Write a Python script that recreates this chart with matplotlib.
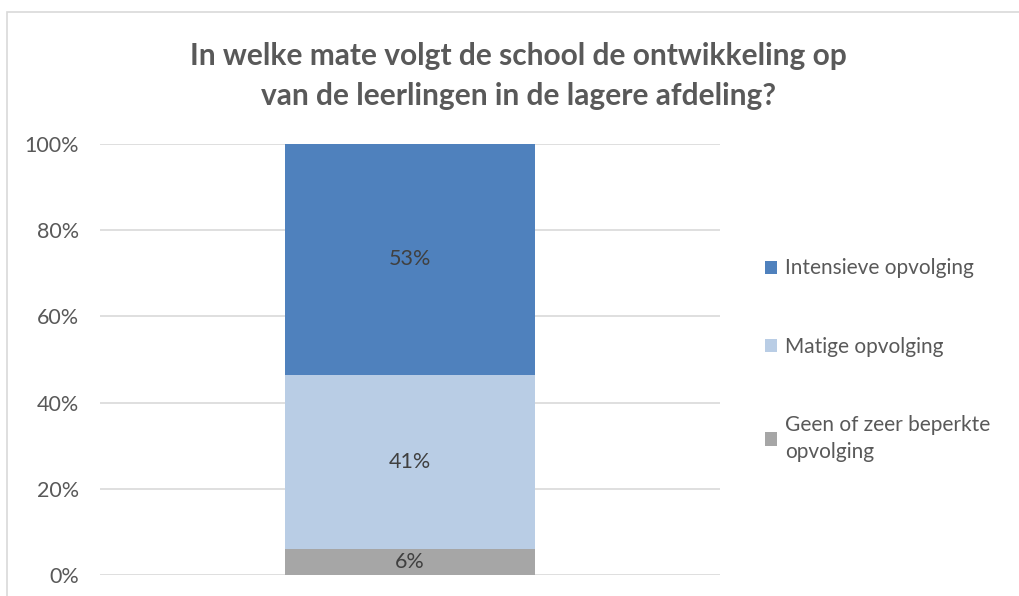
import matplotlib.pyplot as plt
from matplotlib.patches import Rectangle

plt.rcParams['font.family'] = ['Lato', 'DejaVu Sans']

# data (bottom to top)
series = ["Geen of zeer beperkte\nopvolging", "Matige opvolging", "Intensieve opvolging"]
values = [6.0, 40.5, 53.5]
value_labels = ["6%", "41%", "53%"]
colors = ["#A6A6A6", "#B9CDE5", "#4F81BD"]
yticks = [0, 20, 40, 60, 80, 100]
ytick_labels = ["0%", "20%", "40%", "60%", "80%", "100%"]
title = "In welke mate volgt de school de ontwikkeling op\nvan de leerlingen in de lagere afdeling?"

fig = plt.figure(figsize=(10.2, 5.96), dpi=100)
ax = fig.add_axes([100 / 1020, 1 - 575 / 596, 620 / 1020, 431 / 596])

# outer chart frame (runs off the right and bottom edges)
fig.patches.append(Rectangle((7 / 1020, -0.1), 1.2, 1 - 12 / 596 + 0.1,
                             transform=fig.transFigure, fill=False,
                             edgecolor="#D9D9D9", linewidth=1.2))

bottom = 0
handles = []
for name, v, lab, c in zip(series, values, value_labels, colors):
    b = ax.bar(0, v, width=0.403, bottom=bottom, color=c, label=name, zorder=3)
    handles.append(b)
    ax.text(0, bottom + v / 2, lab, ha="center", va="center",
            fontsize=15.5, color="#404040", zorder=4)
    bottom += v

ax.set_xlim(-0.5, 0.5)
ax.set_ylim(0, 100)
ax.set_yticks(yticks)
ax.set_yticklabels(ytick_labels, fontsize=15.5, color="#595959")
ax.set_xticks([])
ax.tick_params(axis="y", length=0, pad=15)
ax.grid(axis="y", color="#D9D9D9", linewidth=1.2, zorder=0)
for s in ax.spines.values():
    s.set_visible(False)

fig.text(0.508, 1 - 76 / 596, title, ha="center", va="center",
         fontsize=21.5, fontweight="bold", color="#595959", linespacing=1.5)

leg = ax.legend(handles[::-1], series[::-1], loc="center left",
                bbox_to_anchor=(765 / 1020, 1 - 360 / 596),
                bbox_transform=fig.transFigure, frameon=False, borderpad=0,
                borderaxespad=0, fontsize=15, labelcolor="#595959",
                handlelength=0.6, handleheight=0.6, handletextpad=0.35,
                labelspacing=2.8)
for t in leg.get_texts():
    t.set_linespacing(1.4)

fig.savefig("out.png", dpi=100)
